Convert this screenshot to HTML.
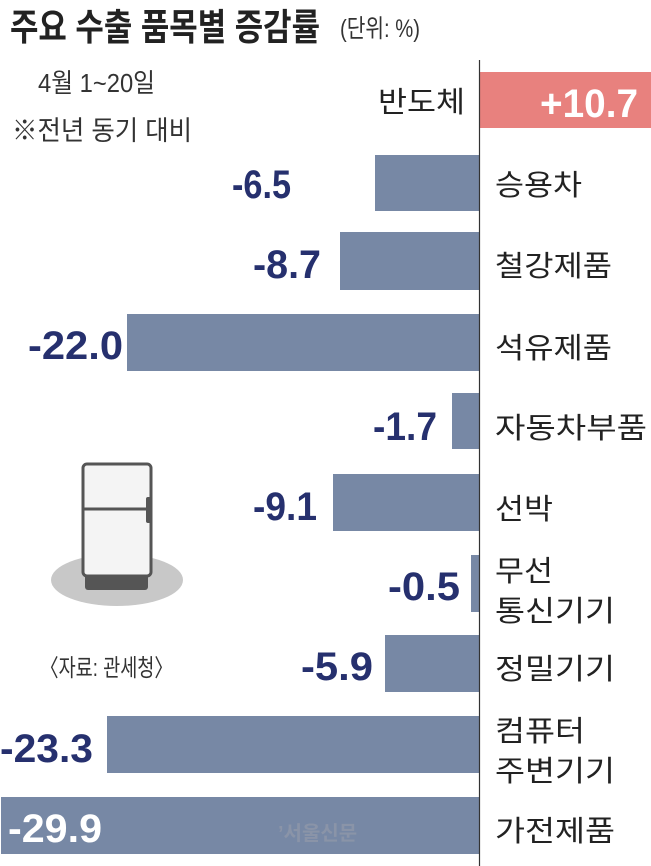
<!DOCTYPE html>
<html><head><meta charset="utf-8"><style>
html,body{margin:0;padding:0;background:#fff;}
svg{display:block;}
.t{font-family:"Liberation Sans","Noto Sans CJK KR",sans-serif;}
.v{font-family:"Liberation Sans",sans-serif;font-weight:bold;font-size:40px;fill:#26306e;}
.w{fill:#fff;}
.c{font-family:"Liberation Sans","Noto Sans CJK KR",sans-serif;font-size:29px;fill:#222;}
</style></head><body>
<svg width="651" height="866" viewBox="0 0 651 866" xmlns="http://www.w3.org/2000/svg">
<text class="t" x="10" y="40" font-size="37" font-weight="bold" fill="#222" textLength="310" lengthAdjust="spacingAndGlyphs">주요 수출 품목별 증감률</text>
<text class="t" x="340" y="37" font-size="25" fill="#333" textLength="80" lengthAdjust="spacingAndGlyphs">(단위: %)</text>
<text class="t" x="38" y="92" font-size="26" fill="#333" textLength="117" lengthAdjust="spacingAndGlyphs">4월 1~20일</text>
<text class="t" x="12" y="140" font-size="27" fill="#333" textLength="180" lengthAdjust="spacingAndGlyphs">※전년 동기 대비</text>
<g fill="#7788a5">
<rect x="375" y="155" width="104" height="56"/>
<rect x="340" y="232" width="139" height="58"/>
<rect x="127" y="314" width="352" height="57"/>
<rect x="452" y="393" width="27" height="56"/>
<rect x="333" y="474" width="146" height="57"/>
<rect x="471" y="555" width="8" height="57"/>
<rect x="385" y="635" width="94" height="57"/>
<rect x="107" y="716" width="372" height="57"/>
<rect x="1" y="797" width="478" height="57"/>
</g>
<rect x="479" y="72" width="172" height="56" fill="#e8817e"/>
<line x1="479.5" y1="60" x2="479.5" y2="866" stroke="#333" stroke-width="1.2"/>
<text class="v w" x="540" y="117" textLength="98" lengthAdjust="spacingAndGlyphs">+10.7</text>
<text class="v" x="232" y="198" textLength="59" lengthAdjust="spacingAndGlyphs">-6.5</text>
<text class="v" x="253" y="278" textLength="68" lengthAdjust="spacingAndGlyphs">-8.7</text>
<text class="v" x="28" y="359" textLength="95" lengthAdjust="spacingAndGlyphs">-22.0</text>
<text class="v" x="373" y="440" textLength="64" lengthAdjust="spacingAndGlyphs">-1.7</text>
<text class="v" x="253" y="520" textLength="64" lengthAdjust="spacingAndGlyphs">-9.1</text>
<text class="v" x="388" y="600" textLength="72" lengthAdjust="spacingAndGlyphs">-0.5</text>
<text class="v" x="301" y="680" textLength="72" lengthAdjust="spacingAndGlyphs">-5.9</text>
<text class="v" x="0" y="762" textLength="93" lengthAdjust="spacingAndGlyphs">-23.3</text>
<text class="v w" x="8" y="842" textLength="94" lengthAdjust="spacingAndGlyphs">-29.9</text>
<text class="t" x="278" y="840" font-size="20" font-weight="bold" fill="#8a94a8">’서울신문</text>
<text class="c" x="378" y="112" textLength="87" lengthAdjust="spacingAndGlyphs">반도체</text>
<text class="c" x="495" y="195" textLength="87" lengthAdjust="spacingAndGlyphs">승용차</text>
<text class="c" x="495" y="276" textLength="117" lengthAdjust="spacingAndGlyphs">철강제품</text>
<text class="c" x="495" y="358" textLength="117" lengthAdjust="spacingAndGlyphs">석유제품</text>
<text class="c" x="495" y="438" textLength="152" lengthAdjust="spacingAndGlyphs">자동차부품</text>
<text class="c" x="495" y="519" textLength="58" lengthAdjust="spacingAndGlyphs">선박</text>
<text class="c" x="495" y="581" textLength="58" lengthAdjust="spacingAndGlyphs">무선</text>
<text class="c" x="495" y="621" textLength="120" lengthAdjust="spacingAndGlyphs">통신기기</text>
<text class="c" x="495" y="679" textLength="120" lengthAdjust="spacingAndGlyphs">정밀기기</text>
<text class="c" x="495" y="741" textLength="90" lengthAdjust="spacingAndGlyphs">컴퓨터</text>
<text class="c" x="495" y="781" textLength="120" lengthAdjust="spacingAndGlyphs">주변기기</text>
<text class="c" x="495" y="841" textLength="120" lengthAdjust="spacingAndGlyphs">가전제품</text>
<text class="t" x="40" y="676" font-size="24" fill="#333" textLength="133" lengthAdjust="spacingAndGlyphs">〈자료: 관세청〉</text>
<ellipse cx="117" cy="580" rx="66" ry="26" fill="#c8c8c8"/>
<rect x="85" y="572" width="63" height="18" rx="3" fill="#555"/>
<rect x="83" y="464" width="68" height="112" rx="4" fill="#f4f4f4" stroke="#555" stroke-width="3"/>
<line x1="83" y1="509" x2="151" y2="509" stroke="#555" stroke-width="3"/>
<rect x="146" y="497" width="5" height="26" rx="2" fill="#555"/>
</svg>
</body></html>
